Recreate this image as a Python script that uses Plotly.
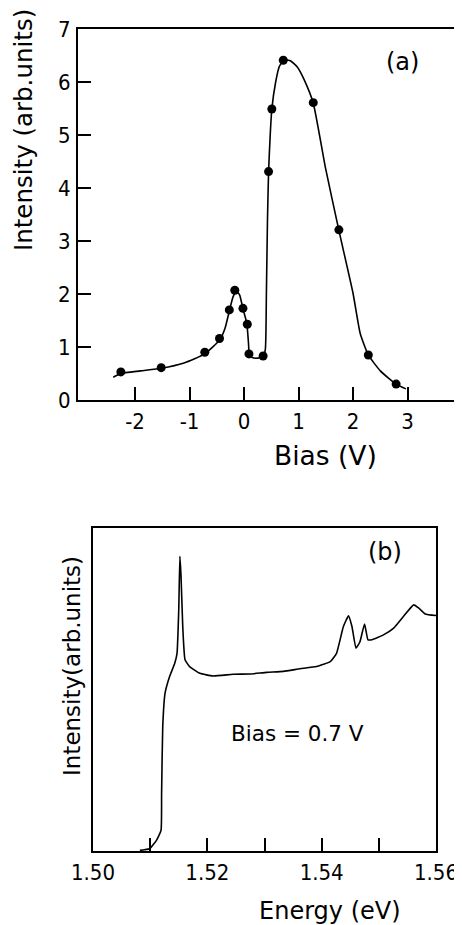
import plotly.graph_objects as go

# ---- Panel (a): measured points and drawn curve ----
bias_pts = [-2.26, -1.52, -0.72, -0.45, -0.27, -0.17, -0.02, 0.06, 0.09, 0.35, 0.45, 0.51, 0.72, 1.27, 1.74, 2.28, 2.79]
int_pts = [0.53, 0.61, 0.90, 1.16, 1.70, 2.07, 1.73, 1.43, 0.87, 0.83, 4.31, 5.49, 6.41, 5.61, 3.21, 0.85, 0.30]

bias_curve = [-2.40, -2.26, -1.90, -1.52, -1.10, -0.72, -0.45, -0.35, -0.27, -0.20, -0.14, -0.08, -0.02,
              0.05, 0.08, 0.10, 0.15, 0.25, 0.35, 0.39, 0.41, 0.43, 0.45, 0.48, 0.51, 0.58, 0.65, 0.75,
              0.85, 0.98, 1.10, 1.27, 1.49, 1.74, 2.00, 2.13, 2.28, 2.50, 2.79, 2.97]
int_curve = [0.43, 0.50, 0.55, 0.60, 0.70, 0.87, 1.13, 1.35, 1.68, 1.95, 2.05, 1.98, 1.72,
             1.45, 1.10, 0.85, 0.80, 0.79, 0.82, 0.95, 2.00, 3.40, 4.30, 5.00, 5.49, 6.00, 6.30, 6.42,
             6.40, 6.28, 6.05, 5.60, 4.40, 3.20, 2.01, 1.26, 0.85, 0.55, 0.30, 0.21]

x_ticks_a = [-2, -1, 0, 1, 2, 3]
x_ticktext_a = ["-2", "-1", "0", "1", "2", "3"]
y_ticks_a = [0, 1, 2, 3, 4, 5, 6, 7]

# ---- Panel (b): spectrum at bias 0.7 V ----
energy = [1.5082, 1.5090, 1.5099, 1.5111, 1.5119, 1.5120, 1.5122, 1.5126, 1.5134, 1.5143, 1.5147,
          1.5150, 1.5152, 1.5154, 1.5157, 1.5161, 1.5169, 1.5187, 1.5210, 1.5245, 1.5275, 1.5304,
          1.5333, 1.5362, 1.5391, 1.5415, 1.5426, 1.5438, 1.5447, 1.5453, 1.5460, 1.5467, 1.5475,
          1.5481, 1.5488, 1.5508, 1.5526, 1.5543, 1.5561, 1.5570, 1.5581, 1.5600]
spectrum = [0.02, 0.04, 0.07, 0.33, 0.64, 1.78, 3.85, 4.88, 5.40, 5.81, 6.12,
            7.47, 9.12, 8.50, 6.95, 5.92, 5.71, 5.50, 5.42, 5.47, 5.48, 5.53,
            5.56, 5.64, 5.71, 5.86, 6.12, 6.95, 7.28, 6.95, 6.28, 6.48, 7.03,
            6.54, 6.54, 6.69, 6.90, 7.26, 7.62, 7.52, 7.34, 7.29]

x_ticks_b = [1.50, 1.51, 1.52, 1.53, 1.54, 1.55, 1.56]
x_ticktext_b = ["1.50", "", "1.52", "", "1.54", "", "1.56"]

TICKFONT = "DejaVu Sans Condensed, DejaVu Sans, sans-serif"
FONT = "DejaVu Sans, sans-serif"
OFF = 8  # page body margin
W, H = 462 - OFF, 925 - OFF

fig = go.Figure()
fig.add_trace(go.Scatter(x=bias_curve, y=int_curve, mode="lines",
                         line=dict(color="black", width=1.6, shape="spline", smoothing=0.5),
                         xaxis="x", yaxis="y", showlegend=False, hoverinfo="skip"))
fig.add_trace(go.Scatter(x=bias_pts, y=int_pts, mode="markers", marker=dict(color="black", size=9),
                         xaxis="x", yaxis="y", showlegend=False))
fig.add_trace(go.Scatter(x=energy, y=spectrum, mode="lines",
                         line=dict(color="black", width=1.6, shape="spline", smoothing=0.4),
                         xaxis="x2", yaxis="y2", showlegend=False))


def px(x):
    return (x - OFF) / W


def py(y):
    return 1 - (y - OFF) / H


def axis(**kw):
    d = dict(showline=True, linecolor="black", linewidth=2, mirror=True, showgrid=False, zeroline=False,
             ticks="inside", tickcolor="black", tickwidth=2, ticklen=13, automargin=False,
             tickfont=dict(family=TICKFONT, size=22, color="black"))
    d.update(kw)
    return d


fig.update_layout(
    template="none",
    width=W, height=H, margin=dict(l=0, r=0, t=0, b=0, pad=0),
    paper_bgcolor="white", plot_bgcolor="white",
    xaxis=axis(domain=[px(78), px(461)], range=[-3.046, 3.98], tickvals=x_ticks_a, ticktext=x_ticktext_a,
               anchor="y", ticklabelstandoff=1),
    yaxis=axis(domain=[py(400), py(29)], range=[0, 7], tickvals=y_ticks_a, anchor="x", ticklabelstandoff=1),
    xaxis2=axis(domain=[px(93), px(436)], range=[1.50, 1.56], tickvals=x_ticks_b, ticktext=x_ticktext_b,
                anchor="y2", ticklabelstandoff=1),
    yaxis2=axis(domain=[py(851), py(528)], range=[0, 10], anchor="x2", showticklabels=False, ticks=""),
)

anns = [
    dict(text="Intensity (arb.units)", x=px(23), y=py(130), textangle=-90, size=24.5),
    dict(text="Bias (V)", x=px(325), y=py(456), size=26.5),
    dict(text="(a)", x=px(402), y=py(62), size=24),
    dict(text="Intensity(arb.units)", x=px(72), y=py(666), textangle=-90, size=23),
    dict(text="Energy (eV)", x=px(330), y=py(911), size=24),
    dict(text="(b)", x=px(385), y=py(552), size=24),
    dict(text="Bias = 0.7 V", x=px(297), y=py(733), size=21.5),
]
for a in anns:
    size = a.pop("size")
    fig.add_annotation(xref="paper", yref="paper", showarrow=False,
                       font=dict(family=FONT, size=size, color="black"),
                       xanchor="center", yanchor="middle", **a)

fig.write_html("out.html")
